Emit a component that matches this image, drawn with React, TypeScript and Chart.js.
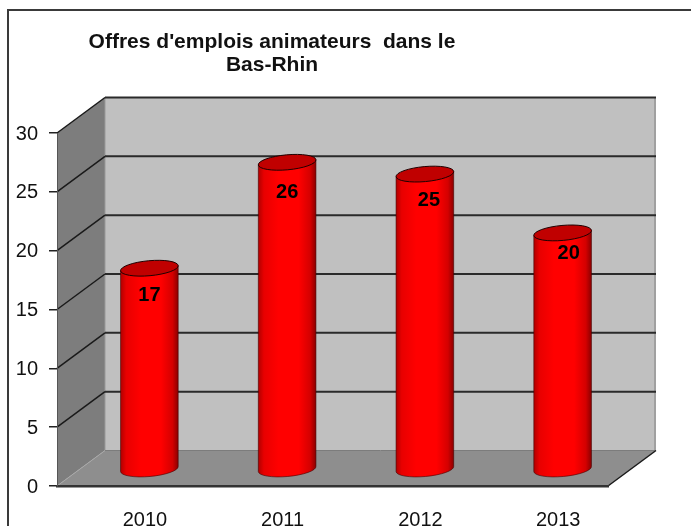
import React, { useEffect, useRef } from "react";
import { Chart, registerables } from "chart.js";

Chart.register(...registerables);

const categories = ["2010", "2011", "2012", "2013"];
const offers = [17, 26, 25, 20];
const titleLines = ["Offres d'emplois animateurs  dans le", "Bas-Rhin"];

const DEPTH_X = 48;
const DEPTH_Y = 35.5;
const TILT = -0.09;
const labelNudgeX = [0, 0, 4, 6];
const labelNudgeY = [27, 30, 26, 21];

const poly = (ctx: CanvasRenderingContext2D, pts: number[][], fill: string) => {
  ctx.beginPath();
  pts.forEach(([x, y], i) => (i ? ctx.lineTo(x, y) : ctx.moveTo(x, y)));
  ctx.closePath();
  ctx.fillStyle = fill;
  ctx.fill();
};

const line = (ctx: CanvasRenderingContext2D, x1: number, y1: number, x2: number, y2: number, color: string, w: number) => {
  ctx.beginPath();
  ctx.moveTo(x1, y1);
  ctx.lineTo(x2, y2);
  ctx.strokeStyle = color;
  ctx.lineWidth = w;
  ctx.stroke();
};

const scene3d = {
  id: "scene3d",
  beforeDraw(chart: any) {
    const { ctx, chartArea: a, scales } = chart;
    const y = scales.y;
    const l = a.left, r = a.right, t = a.top, b = a.bottom;
    const dx = DEPTH_X, dy = DEPTH_Y;
    ctx.save();

    // frame
    ctx.strokeStyle = "#3a3a3a";
    ctx.lineWidth = 2;
    ctx.strokeRect(8, 10, 800, 700);

    if (chart.titleBlock) {
      chart.titleBlock.left = 62;
      chart.titleBlock.right = 482;
    }

    poly(ctx, [[l + dx, t - dy], [r + dx, t - dy], [r + dx, b - dy], [l + dx, b - dy]], "#c0c0c0");
    poly(ctx, [[l, t], [l + dx, t - dy], [l + dx, b - dy], [l, b]], "#7d7d7d");
    poly(ctx, [[l, b], [l + dx, b - dy], [r + dx, b - dy], [r, b]], "#8e8e8e");

    line(ctx, r + dx - 1, t - dy, r + dx - 1, b - dy, "#a0a0a0", 2);
    line(ctx, l + dx, t - dy, l + dx, b - dy, "#9a9a9a", 1);
    line(ctx, l, b, l + dx, b - dy, "#a8a8a8", 1);
    line(ctx, l + dx, b - dy, r + dx, b - dy, "#7c7c7c", 1);
    line(ctx, r, b, r + dx, b - dy, "#1a1a1a", 1.5);

    y.ticks.forEach((_: any, i: number) => {
      const py = y.getPixelForTick(i);
      if (y.ticks[i].value === 0) return;
      line(ctx, l, py, l + dx, py - dy, "#1a1a1a", 1.5);
      line(ctx, l + dx, py - dy, r + dx, py - dy, "#2a2a2a", 2);
    });
    ctx.restore();
  },
  afterDatasetsDraw(chart: any) {
    const { ctx } = chart;
    const dx = DEPTH_X / 2, dy = DEPTH_Y / 2;
    const ry = 7.5;
    ctx.save();
    chart.getDatasetMeta(0).data.forEach((bar: any, i: number) => {
      const cx = bar.x + dx - 0.5;
      const top = bar.y - dy;
      const base = bar.base - dy + 1.5;
      const rx = bar.width / 2;
      const grad = ctx.createLinearGradient(cx - rx, 0, cx + rx, 0);
      grad.addColorStop(0, "#b00000");
      grad.addColorStop(0.1, "#e80000");
      grad.addColorStop(0.35, "#ff0000");
      grad.addColorStop(0.7, "#ff0000");
      grad.addColorStop(0.9, "#d40000");
      grad.addColorStop(1, "#8a0000");

      const ex = rx * Math.cos(TILT);
      const ey = rx * Math.sin(TILT);
      ctx.beginPath();
      ctx.moveTo(cx - ex, top - ey);
      ctx.lineTo(cx - ex, base - ey);
      ctx.ellipse(cx, base, rx, ry, TILT, Math.PI, 0, true);
      ctx.lineTo(cx + ex, top + ey);
      ctx.closePath();
      ctx.fillStyle = grad;
      ctx.fill();
      ctx.strokeStyle = "rgba(70,0,0,0.6)";
      ctx.lineWidth = 1;
      ctx.stroke();

      ctx.beginPath();
      ctx.ellipse(cx, top, rx, ry, TILT, 0, Math.PI * 2);
      ctx.fillStyle = "#c00000";
      ctx.fill();
      ctx.strokeStyle = "#200000";
      ctx.stroke();

      ctx.fillStyle = "#000";
      ctx.font = "bold 20px 'Liberation Sans'";
      ctx.textAlign = "center";
      ctx.textBaseline = "middle";
      ctx.fillText(String(offers[i]), cx + labelNudgeX[i], top + labelNudgeY[i]);
    });
    ctx.restore();
  },
};

export default function App() {
  const ref = useRef<HTMLCanvasElement>(null);
  useEffect(() => {
    const chart = new Chart(ref.current!, {
      type: "bar",
      data: {
        labels: categories,
        datasets: [
          {
            label: "Offres",
            data: offers,
            backgroundColor: "rgba(0,0,0,0)",
            borderWidth: 0,
            categoryPercentage: 0.42,
            barPercentage: 1,
          },
        ],
      },
      options: {
        responsive: false,
        animation: false,
        layout: { autoPadding: false, padding: { left: 0, right: 83, top: 0, bottom: 0 } },
        plugins: {
          legend: { display: false },
          tooltip: { enabled: false },
          title: {
            display: true,
            text: titleLines,
            color: "#111",
            font: { family: "'Liberation Sans'", size: 21, weight: "bold", lineHeight: 1.1 },
            padding: { top: 31, bottom: 55.8 },
          },
        },
        scales: {
          x: {
            afterFit: (s: any) => { s.height = 40; },
            grid: { display: false },
            border: { display: true, color: "#333", width: 2.5 },
            ticks: {
              color: "#111",
              font: { family: "'Liberation Sans'", size: 20 },
              padding: 14,
              labelOffset: 19,
              maxRotation: 0,
              autoSkip: false,
            },
          },
          y: {
            min: 0,
            max: 30,
            afterFit: (s: any) => { s.width = 57; },
            grid: { drawOnChartArea: false, tickLength: 8, color: "#222", lineWidth: 1.5 },
            border: { display: true, color: "#555", width: 1 },
            ticks: {
              stepSize: 5,
              color: "#111",
              labelOffset: 1,
              font: { family: "'Liberation Sans'", size: 20 },
              padding: 11,
            },
          },
        },
      },
      plugins: [scene3d],
    } as any);
    return () => chart.destroy();
  }, []);
  return (
    <canvas
      ref={ref}
      width={691}
      height={526}
      style={{ position: "fixed", left: 0, top: 0, width: 691, height: 526, display: "block", filter: "blur(0.5px)" }}
    />
  );
}
